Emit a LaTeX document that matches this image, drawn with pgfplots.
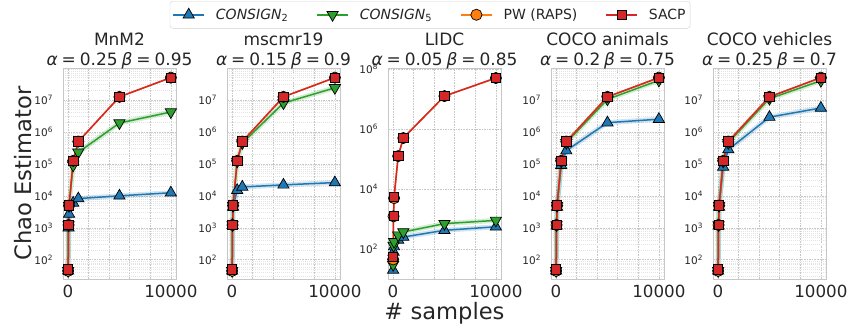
\documentclass[border=0pt]{standalone}
\usepackage{fontspec}
\setmainfont{DejaVu Sans}
\usepackage{pgfplots}
\usepackage{pgfplotstable}
\pgfplotsset{compat=1.18}
\definecolor{cblue}{HTML}{1F77B4}
\definecolor{cgreen}{HTML}{2CA02C}
\definecolor{corange}{HTML}{FF7F0E}
\definecolor{cred}{HTML}{D62728}
\definecolor{txt}{HTML}{262626}
\newcommand{\tsp}{\hspace{0.23em}}
\newcommand{\tp}[1]{10\textsuperscript{#1}}
\newcommand{\gapA}{\rule{9pt}{0pt}}
\newcommand{\gapB}{\rule{26pt}{0pt}}

\pgfplotstableread{
x b g o r
10 45 45 45 50
50 1000 1225 1225 1250
100 2700 4900 4950 5000
500 6000 90000 124750 125000
1000 8200 230000 499500 500000
5000 10000 1900000 12497500 12500000
10000 12500 4200000 49995000 50000000
}\tabA
\pgfplotstableread{
x b g o r
10 45 45 45 50
50 1200 1225 1225 1250
100 4500 4900 4950 5000
500 15000 120000 124750 125000
1000 19000 450000 499500 500000
5000 22000 8000000 12497500 12500000
10000 26000 24000000 49995000 50000000
}\tabB
\pgfplotstableread{
x b g o r
10 20 30 45 55
50 80 130 1225 1300
100 120 175 4950 5400
500 200 290 124750 125000
1000 250 370 499500 500000
5000 420 700 12497500 12500000
10000 550 900 49995000 50000000
}\tabC
\pgfplotstableread{
x b g o r
10 45 45 45 50
50 1150 1225 1225 1250
100 4500 4900 4950 5000
500 90000 120000 124750 125000
1000 260000 460000 499500 500000
5000 1950000 10500000 12497500 12500000
10000 2500000 41000000 49995000 50000000
}\tabD
\pgfplotstableread{
x b g o r
10 45 45 45 50
50 1150 1225 1225 1250
100 4500 4900 4950 5000
500 80000 120000 124750 125000
1000 280000 460000 499500 500000
5000 2900000 11000000 12497500 12500000
10000 5600000 40000000 49995000 50000000
}\tabE

\pgfplotsset{
  myPanel/.style={
    scale only axis, width=113pt, height=211pt, anchor=south west,
    xmin=-489.5, xmax=10499.5, scaled x ticks=false,
    xtick={0,2000,4000,6000,8000,10000},
    xticklabels={0,,,,,10000},
    major tick length=0pt, minor tick length=0pt,
    xmajorgrids=true, ymajorgrids=true,
    major grid style={black!22, dash pattern=on 1.6pt off 1pt, line width=0.6pt},
    minor grid style={black!11, dash pattern=on 1.2pt off 0.8pt, line width=0.5pt},
    axis line style={black!22, line width=0.9pt},
    ticklabel style={text=txt},
    xticklabel style={font=\fontsize{16.7}{18}\selectfont, yshift=-2.5pt},
    yticklabel style={font=\fontsize{10.5}{12}\selectfont, xshift=-6.5pt},
    title style={at={(0.5,1)}, anchor=south, yshift=-7pt, inner sep=0pt,
      font=\fontsize{17}{20}\selectfont, align=center, text=txt},
  },
  myDec/.style={
    ymin=25, ymax=1e8, yminorgrids=true,
    ytick={1e2,1e3,1e4,1e5,1e6,1e7},
    yticklabels={\tp{2},\tp{3},\tp{4},\tp{5},\tp{6},\tp{7}},
    minor ytick={30,40,50,60,70,80,90,200,300,400,500,600,700,800,900,2000,3000,4000,5000,6000,7000,8000,9000,20000,30000,40000,50000,60000,70000,80000,90000,200000,300000,400000,500000,600000,700000,800000,900000,2e6,3e6,4e6,5e6,6e6,7e6,8e6,9e6,2e7,3e7,4e7,5e7,6e7,7e7,8e7,9e7},
  },
  myBlue/.style={color=cblue, line width=1.5pt, mark=triangle*, mark size=6.5pt,
    mark options={fill=cblue, draw=black, line width=0.7pt, solid}},
  myGreen/.style={color=cgreen, line width=1.5pt, mark=triangle*, mark size=6.5pt,
    mark options={rotate=180, fill=cgreen, draw=black, line width=0.7pt, solid}},
  myOrange/.style={color=corange, line width=1.5pt, mark=*, mark size=5.6pt,
    mark options={fill=corange, draw=black, line width=0.7pt, solid}},
  myRed/.style={color=cred, line width=1.5pt, mark=square*, mark size=4.7pt,
    mark options={fill=cred, draw=black, line width=0.7pt, solid}},
  myBand/.style={line width=5pt, opacity=0.2, forget plot, no marks},
}

\begin{document}
\begin{tikzpicture}
\useasboundingbox (0,0) rectangle (852pt,333pt);

% Panel 1
\begin{axis}[ymode=log, myPanel, myDec, at={(63pt,54pt)},
  title={MnM2\\\textit{α}\tsp=\tsp0.25\tsp\textit{β}\tsp=\tsp0.95},
  ylabel={Chao Estimator},
  ylabel style={at={(axis description cs:-0.35,0.5)}, anchor=center, font=\fontsize{22.6}{24}\selectfont, text=txt},
  legend style={at={(3.248,1.3175)}, anchor=north, legend columns=4,
    draw=black!18, rounded corners=3pt, fill=white,
    font=\fontsize{14}{16}\selectfont, text=txt, inner xsep=2.5pt, inner ysep=5.5pt},
  legend image code/.code={\draw[mark repeat=2,mark phase=2] plot coordinates {(0pt,0pt) (15.5pt,0pt) (31pt,0pt)};},
]
\addplot[cblue, myBand] table[x=x,y=b] {\tabA};
\addplot[cgreen, myBand] table[x=x,y=g] {\tabA};
\addplot[myBlue] table[x=x,y=b] {\tabA};
\addplot[myGreen] table[x=x,y=g] {\tabA};
\addplot[myOrange] table[x=x,y=o] {\tabA};
\addplot[myRed] table[x=x,y=r] {\tabA};
\legend{\gapA\textit{CONSIGN}\textsubscript{2}\gapB,\gapA\textit{CONSIGN}\textsubscript{5}\gapB,\gapA PW (RAPS)\gapB,\gapA SACP}
\end{axis}

% Panel 2
\begin{axis}[ymode=log, myPanel, myDec, at={(227pt,54pt)},
  title={mscmr19\\\textit{α}\tsp=\tsp0.15\tsp\textit{β}\tsp=\tsp0.9}]
\addplot[cblue, myBand] table[x=x,y=b] {\tabB};
\addplot[cgreen, myBand] table[x=x,y=g] {\tabB};
\addplot[myBlue] table[x=x,y=b] {\tabB};
\addplot[myGreen] table[x=x,y=g] {\tabB};
\addplot[myOrange] table[x=x,y=o] {\tabB};
\addplot[myRed] table[x=x,y=r] {\tabB};
\end{axis}

% Panel 3
\begin{axis}[ymode=log, myPanel, at={(388pt,54pt)},
  ymin=10, ymax=1.08e8,
  ytick={1e2,1e4,1e6,1e8},
  yticklabels={\tp{2},\tp{4},\tp{6},\tp{8}},
  yminorgrids=false,
  title={LIDC\\\textit{α}\tsp=\tsp0.05\tsp\textit{β}\tsp=\tsp0.85},
  xlabel={\# samples},
  xlabel style={at={(axis description cs:0.5,-0.161)}, anchor=center, font=\fontsize{22.6}{24}\selectfont, text=txt}]
\addplot[cblue, myBand] table[x=x,y=b] {\tabC};
\addplot[cgreen, myBand] table[x=x,y=g] {\tabC};
\addplot[myBlue] table[x=x,y=b] {\tabC};
\addplot[myGreen] table[x=x,y=g] {\tabC};
\addplot[myOrange] table[x=x,y=o] {\tabC};
\addplot[myRed] table[x=x,y=r] {\tabC};
\end{axis}

% Panel 4
\begin{axis}[ymode=log, myPanel, myDec, at={(551pt,54pt)},
  title={COCO animals\\\textit{α}\tsp=\tsp0.2\tsp\textit{β}\tsp=\tsp0.75}]
\addplot[cblue, myBand] table[x=x,y=b] {\tabD};
\addplot[cgreen, myBand] table[x=x,y=g] {\tabD};
\addplot[myBlue] table[x=x,y=b] {\tabD};
\addplot[myGreen] table[x=x,y=g] {\tabD};
\addplot[myOrange] table[x=x,y=o] {\tabD};
\addplot[myRed] table[x=x,y=r] {\tabD};
\end{axis}

% Panel 5
\begin{axis}[ymode=log, myPanel, myDec, at={(713pt,54pt)},
  title={COCO vehicles\\\textit{α}\tsp=\tsp0.25\tsp\textit{β}\tsp=\tsp0.7}]
\addplot[cblue, myBand] table[x=x,y=b] {\tabE};
\addplot[cgreen, myBand] table[x=x,y=g] {\tabE};
\addplot[myBlue] table[x=x,y=b] {\tabE};
\addplot[myGreen] table[x=x,y=g] {\tabE};
\addplot[myOrange] table[x=x,y=o] {\tabE};
\addplot[myRed] table[x=x,y=r] {\tabE};
\end{axis}
\end{tikzpicture}
\end{document}
